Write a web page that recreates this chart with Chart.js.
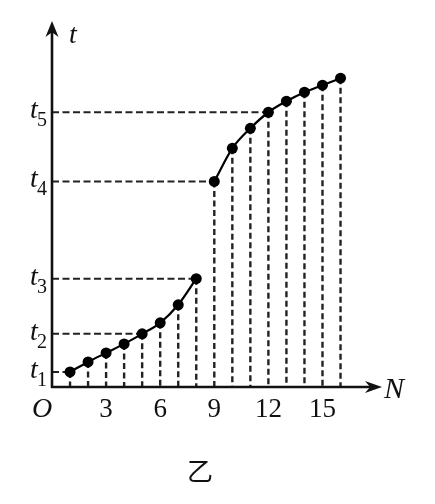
<!DOCTYPE html>
<html lang="zh">
<head>
<meta charset="UTF-8">
<title>t - N</title>
<script src="https://cdn.jsdelivr.net/npm/chart.js@4.4.0/dist/chart.umd.min.js"></script>
<style>
  body { margin: 0; background: #fff; }
  canvas { display: block; }
</style>
</head>
<body>
<canvas id="myChart" width="435" height="504"></canvas>
<script>
// data
var N = [1, 2, 3, 4, 5, 6, 7, 8, 9, 10, 11, 12, 13, 14, 15, 16];
var T = [1.5, 2.5, 3.4, 4.3, 5.3, 6.4, 8.2, 10.8, 20.5, 23.8, 25.8, 27.4, 28.5, 29.4, 30.1, 30.8];
var xTicks = [3, 6, 9, 12, 15];
var tLabelN = [1, 5, 8, 9, 12];     // points that get a t_i mark on the axis
var tLabelSub = ['1', '2', '3', '4', '5'];
var caption = '乙';

var ink = '#111';
var serif = '"Times New Roman", "Liberation Serif", serif';

function pts(from, to) {
    var out = [];
    for (var i = 0; i < N.length; i++) {
        if (N[i] >= from && N[i] <= to) out.push({x: N[i], y: T[i]});
    }
    return out;
}

function arrow(ctx, x, y, dir, len, half) {
    // notched arrow head with tip at (x,y)
    ctx.beginPath();
    if (dir == 'up') {
        ctx.moveTo(x, y);
        ctx.lineTo(x + half, y + len);
        ctx.lineTo(x, y + len * 0.7);
        ctx.lineTo(x - half, y + len);
    } else {
        ctx.moveTo(x, y);
        ctx.lineTo(x - len, y - half);
        ctx.lineTo(x - len * 0.7, y);
        ctx.lineTo(x - len, y + half);
    }
    ctx.closePath();
    ctx.fill();
}

var axesPlugin = {
    id: 'axesPlugin',
    beforeDatasetsDraw: function(chart) {
        var ctx = chart.ctx;
        var xs = chart.scales.x, ys = chart.scales.y;
        var x0 = xs.getPixelForValue(0), y0 = ys.getPixelForValue(0);
        ctx.save();
        ctx.strokeStyle = '#222';
        // vertical guides from every point
        ctx.lineWidth = 2.4;
        ctx.setLineDash([6, 3.5]);
        for (var i = 0; i < N.length; i++) {
            var px = xs.getPixelForValue(N[i]);
            ctx.beginPath();
            ctx.moveTo(px, ys.getPixelForValue(T[i]));
            ctx.lineTo(px, y0);
            ctx.stroke();
        }
        // horizontal guides to the t marks
        ctx.lineWidth = 2;
        ctx.setLineDash([7, 3.5]);
        for (var j = 0; j < tLabelN.length; j++) {
            var k = N.indexOf(tLabelN[j]);
            var py = ys.getPixelForValue(T[k]);
            ctx.beginPath();
            ctx.moveTo(x0, py);
            ctx.lineTo(xs.getPixelForValue(N[k]), py);
            ctx.stroke();
        }
        // axes
        ctx.setLineDash([]);
        ctx.strokeStyle = ink;
        ctx.fillStyle = ink;
        ctx.lineWidth = 2.6;
        ctx.beginPath();
        ctx.moveTo(x0, y0 + 1);
        ctx.lineTo(x0, chart.chartArea.top + 8);
        ctx.moveTo(x0 - 1, y0);
        ctx.lineTo(chart.chartArea.right - 8, y0);
        ctx.stroke();
        arrow(ctx, x0, chart.chartArea.top, 'up', 16, 6.5);
        arrow(ctx, chart.chartArea.right, y0, 'right', 17, 6);
        ctx.restore();
    },
    afterDraw: function(chart) {
        var ctx = chart.ctx;
        var xs = chart.scales.x, ys = chart.scales.y;
        var x0 = xs.getPixelForValue(0), y0 = ys.getPixelForValue(0);
        ctx.save();
        ctx.fillStyle = ink;
        ctx.textAlign = 'center';
        ctx.textBaseline = 'alphabetic';
        // x ticks
        ctx.font = '27px ' + serif;
        xTicks.forEach(function(v) {
            ctx.fillText(String(v), xs.getPixelForValue(v), y0 + 30);
        });
        ctx.font = 'italic 28px ' + serif;
        ctx.fillText('O', x0 - 10, y0 + 30);
        // t marks with subscripts
        for (var j = 0; j < tLabelN.length; j++) {
            var py = ys.getPixelForValue(T[N.indexOf(tLabelN[j])]);
            ctx.textAlign = 'left';
            ctx.font = 'italic 28px ' + serif;
            ctx.fillText('t', x0 - 22, py + 6);
            ctx.font = '20px ' + serif;
            ctx.fillText(tLabelSub[j], x0 - 15, py + 14);
        }
        // axis titles
        ctx.textAlign = 'center';
        ctx.font = 'italic 28px ' + serif;
        ctx.fillText('t', x0 + 21, chart.chartArea.top + 22);
        ctx.font = 'italic 30px ' + serif;
        ctx.fillText('N', chart.chartArea.right + 12, y0 + 11);
        // caption
        ctx.font = '26px "Noto Sans CJK SC"';
        ctx.fillText(caption, 200, 481);
        ctx.restore();
    }
};

var dotStyle = {
    borderColor: '#000',
    backgroundColor: '#000',
    borderWidth: 2.2,
    pointRadius: 5.5,
    pointBackgroundColor: '#000',
    pointBorderWidth: 0,
    cubicInterpolationMode: 'monotone',
    fill: false
};

var chart = new Chart(document.getElementById('myChart'), {
    type: 'line',
    data: {
        datasets: [
            Object.assign({label: 'a', data: pts(1, 8)}, dotStyle),
            Object.assign({label: 'b', data: pts(9, 16)}, dotStyle)
        ]
    },
    options: {
        responsive: false,
        animation: false,
        events: [],
        layout: {padding: {left: 52, right: 53, top: 21, bottom: 117}},
        plugins: {legend: {display: false}, tooltip: {enabled: false}},
        scales: {
            x: {type: 'linear', min: 0, max: 18.3, display: false},
            y: {type: 'linear', min: 0, max: 36.5, display: false}
        }
    },
    plugins: [axesPlugin]
});
</script>
</body>
</html>
